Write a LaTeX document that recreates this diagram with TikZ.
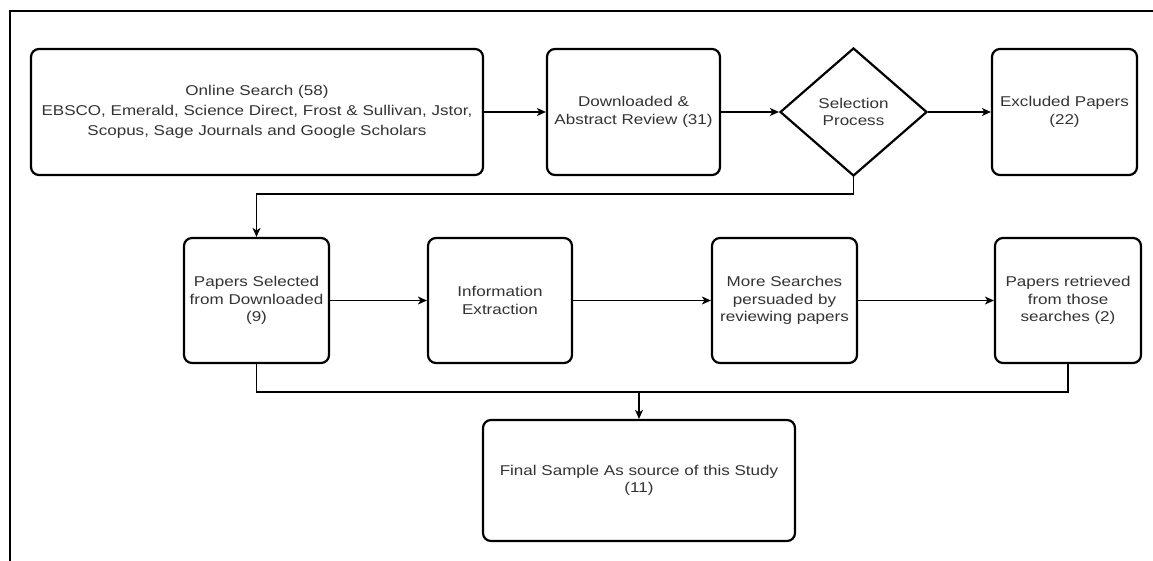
\documentclass[tikz,border=0pt]{standalone}
\usepackage{fontspec}
\setmainfont{Liberation Sans}[FakeStretch=1.2]
\usetikzlibrary{arrows.meta,shapes.geometric}
\begin{document}
\begin{tikzpicture}[x=1pt,y=-1pt,
  box/.style={draw=black,line width=2.2pt,rounded corners=8pt,fill=white,
    align=center,text=black!80,inner sep=2pt,
    font=\fontsize{14.2}{17.5}\selectfont},
  dia/.style={draw=black,line width=2.2pt,diamond,fill=white,
    align=center,text=black!80,inner sep=0pt,
    font=\fontsize{14.2}{17.5}\selectfont},
  conn/.style={line width=1.2pt,draw=black},
  arr/.style={conn,-{Stealth[length=9pt,width=8pt,inset=2.5pt]}}
]
\useasboundingbox (0,0) rectangle (1153,561);
% frame
\draw[line width=2pt] (10,561) -- (10,11) -- (1153,11);
% row 1
\node[box,minimum width=452pt,minimum height=126pt,font=\fontsize{14.2}{20}\selectfont] (online) at (257,112)
  {Online Search (58)\\EBSCO, Emerald, Science Direct, Frost \& Sullivan, Jstor,\\Scopus, Sage Journals and Google Scholars};
\node[box,minimum width=173pt,minimum height=126pt] (down) at (633.5,112)
  {Downloaded \&\\Abstract Review (31)};
\node[dia,minimum width=147pt,minimum height=128pt] (sel) at (853.5,112)
  {Selection\\Process};
\node[box,minimum width=145pt,minimum height=126pt] (excl) at (1064.5,112)
  {Excluded Papers\\(22)};
% row 2
\node[box,minimum width=145pt,minimum height=125pt] (psel) at (256.5,300.5)
  {Papers Selected\\from Downloaded\\(9)};
\node[box,minimum width=144pt,minimum height=125pt] (info) at (500,300.5)
  {Information\\Extraction};
\node[box,minimum width=145pt,minimum height=125pt] (more) at (784.5,300.5)
  {More Searches\\persuaded by\\reviewing papers};
\node[box,minimum width=146pt,minimum height=125pt] (ret) at (1068,300.5)
  {Papers retrieved\\from those\\searches (2)};
% final
\node[box,minimum width=312pt,minimum height=121pt] (final) at (639,480.5)
  {Final Sample As source of this Study\\(11)};
% helper coordinates
\coordinate (fb) at (0,194);
\coordinate (bus) at (0,392);
% connectors
\draw[arr] (online) -- (down);
\draw[arr] (down) -- (sel);
\draw[arr] (sel) -- (excl);
\draw[arr] (sel.south) -- (sel.south |- fb) -- (psel.north |- fb) -- (psel.north);
\draw[arr] (psel) -- (info);
\draw[arr] (info) -- (more);
\draw[arr] (more) -- (ret);
\draw[conn] (psel.south) -- (psel.south |- bus) -- (ret.south |- bus) -- (ret.south);
\draw[arr] (final.north |- bus) -- (final.north);
\end{tikzpicture}
\end{document}
